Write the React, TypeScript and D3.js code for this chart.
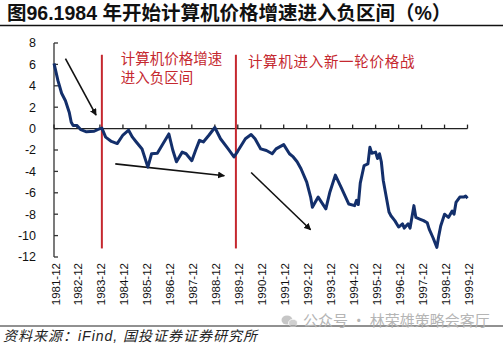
import React from "react";
import * as d3 from "d3";

// ---- data ----
const dates = [
  "1981-12","1982-02","1982-04","1982-06","1982-08","1982-09","1982-10","1982-12",
  "1983-02","1983-05","1983-09","1983-11","1984-01","1984-03","1984-06","1984-09",
  "1984-12","1985-03","1985-05","1985-07","1985-10","1986-01","1986-03","1986-06",
  "1986-09","1986-12","1987-02","1987-04","1987-07","1987-09","1987-12","1988-02",
  "1988-04","1988-06","1988-09","1988-12","1989-03","1989-07","1989-10","1989-12",
  "1990-04","1990-07","1990-09","1990-12","1991-03","1991-06","1991-08","1991-12",
  "1992-03","1992-05","1992-07","1992-09","1992-12","1993-02","1993-03","1993-06",
  "1993-10","1993-12","1994-03","1994-06","1994-10","1995-01","1995-02","1995-03",
  "1995-04","1995-06","1995-08","1995-09","1995-10","1995-12","1996-01","1996-02",
  "1996-03","1996-04","1996-07","1996-08","1996-10","1996-12","1997-02","1997-03",
  "1997-05","1997-06","1997-08","1997-09","1997-11","1998-01","1998-03","1998-04",
  "1998-06","1998-08","1998-09","1998-10","1998-12","1999-02","1999-04","1999-05",
  "1999-06","1999-08","1999-10","1999-11","1999-12",
];
const values = [
  6.1, 4.5, 3.3, 2.6, 1.5, 0.6, 0.3, 0.3,
  -0.1, -0.3, -0.25, -0.07, 0.05, -0.8, -1.2, -1.4,
  -0.6, -0.15, -0.8, -1.25, -1.9, -3.6, -2.35, -2.3,
  -1.4, -0.5, -2.0, -3.1, -2.2, -2.35, -3.0, -2.0,
  -1.1, -1.25, -0.6, 0.1, -0.95, -1.9, -2.65, -2.1,
  -0.95, -0.55, -0.95, -1.9, -2.05, -2.35, -1.9, -1.5,
  -2.35, -2.65, -3.1, -3.75, -5.0, -6.4, -7.35, -6.4,
  -7.5, -6.0, -4.35, -5.5, -7.05, -7.2, -6.7, -7.1,
  -5.1, -3.45, -3.3, -1.75, -2.3, -2.2, -2.8, -2.35,
  -3.1, -4.85, -7.8, -8.15, -8.6, -9.2, -8.9, -9.3,
  -8.9, -9.3, -7.2, -8.3, -8.45, -8.6, -8.8, -9.4,
  -10.2, -11.1, -10.0, -9.1, -8.0, -8.3, -7.7, -8.0,
  -6.9, -6.4, -6.4, -6.3, -6.5,
];
const yTicks = [8, 6, 4, 2, 0, -2, -4, -6, -8, -10, -12];
const xTickLabels = [
  "1981-12","1982-12","1983-12","1984-12","1985-12","1986-12","1987-12",
  "1988-12","1989-12","1990-12","1991-12","1992-12","1993-12","1994-12",
  "1995-12","1996-12","1997-12","1998-12","1999-12",
];
const markerDates = ["1984-01", "1989-11"];
const arrowFromDates = ["1982-06", "1984-08", "1990-07"];
const arrowFromValues = [6.55, -3.3, -4.1];
const arrowToDates = ["1983-10", "1989-05", "1993-02"];
const arrowToValues = [1.25, -4.4, -9.45];
const noteLines1 = ["计算机价格增速", "进入负区间"];
const noteLines2 = ["计算机进入新一轮价格战"];
const titleText = "图96.1984 年开始计算机价格增速进入负区间（%）";
const sourceText = "资料来源：iFind, 国投证券证券研究所";
const watermarkText = "公众号 · 林荣雄策略会客厅";

const parse = d3.timeParse("%Y-%m");

export default function App() {
  const W = 503, H = 347;
  const x = d3.scaleTime()
    .domain([parse("1981-12") as Date, parse("1999-12") as Date])
    .range([54, 467.5]);
  const y = d3.scaleLinear().domain([-12, 8]).range([257, 43]);
  const pts = dates.map((d, i) => [x(parse(d) as Date), y(values[i])] as [number, number]);
  const line = d3.line().curve(d3.curveLinear)(pts) || "";
  const y0 = y(0);
  const latin = "'Liberation Sans', Arial, sans-serif";
  const cjk = "'Liberation Sans', 'Noto Sans CJK SC', sans-serif";
  const red = "#c5282f";

  return (
    <svg width={W} height={H} viewBox={`0 0 ${W} ${H}`}
      style={{ position: "absolute", left: 0, top: 0, background: "#fff" }}>
      <defs>
        <marker id="ah" viewBox="0 0 10 10" refX="9" refY="5" markerWidth="7" markerHeight="7"
          orient="auto" markerUnits="userSpaceOnUse">
          <path d="M0,0 L10,5 L0,10 Z" fill="#111" />
        </marker>
      </defs>
      <rect x={0} y={0} width={W} height={H} fill="#fff" />
      {/* title */}
      <text x={7} y={19.5} fontFamily={cjk} fontWeight="bold" fontSize={19.5} fill="#111">{titleText}</text>
      <line x1={0} x2={W} y1={25.5} y2={25.5} stroke="#111" strokeWidth={1.5} />

      {/* y axis */}
      <line x1={54} x2={54} y1={y(8)} y2={y(-12)} stroke="#333" strokeWidth={1.3} />
      {yTicks.map((t) => (
        <g key={t}>
          <line x1={54} x2={58} y1={y(t)} y2={y(t)} stroke="#333" strokeWidth={1.3} />
          <text x={36} y={y(t)} dy="0.35em" textAnchor="end" fontFamily={latin} fontSize={12.5} fill="#111">{t}</text>
        </g>
      ))}

      {/* x axis at zero */}
      <line x1={54} x2={467.5} y1={y0} y2={y0} stroke="#222" strokeWidth={1.3} />
      {xTickLabels.map((l) => {
        const xx = x(parse(l) as Date);
        return (
          <g key={l}>
            <line x1={xx} x2={xx} y1={y0} y2={y0 - 4} stroke="#222" strokeWidth={1.3} />
            <text transform={`translate(${xx + 1.5},263) rotate(-90)`} textAnchor="end" dy="0.35em"
              fontFamily={latin} fontSize={11.5} fill="#111">{l}</text>
          </g>
        );
      })}

      {/* red markers */}
      {markerDates.map((d) => {
        const xx = x(parse(d) as Date);
        return <line key={d} x1={xx} x2={xx} y1={y(6.9)} y2={y(-11.2)} stroke={red} strokeWidth={2} />;
      })}
      {noteLines1.map((t, i) => (
        <text key={t} x={x(parse(markerDates[0]) as Date) + 19} y={64 + i * 19}
          fontFamily="'Noto Sans CJK SC', sans-serif" fontSize={14.5} fill={red}>{t}</text>
      ))}
      {noteLines2.map((t) => (
        <text key={t} x={x(parse(markerDates[1]) as Date) + 12} y={67}
          fontFamily="'Noto Sans CJK SC', sans-serif" fontSize={14.5} letterSpacing={0.7} fill={red}>{t}</text>
      ))}

      {/* arrows */}
      {arrowFromDates.map((d, i) => (
        <line key={d}
          x1={x(parse(d) as Date)} y1={y(arrowFromValues[i])}
          x2={x(parse(arrowToDates[i]) as Date)} y2={y(arrowToValues[i])}
          stroke="#111" strokeWidth={1.6} markerEnd="url(#ah)" />
      ))}

      {/* series */}
      <path d={line} fill="none" stroke="#132f6b" strokeWidth={3} strokeLinejoin="round" />

      {/* footer */}
      <line x1={0} x2={W} y1={326} y2={326} stroke="#222" strokeWidth={1} />
      <g opacity={0.55}>
        <ellipse cx={287} cy={320} rx={5.5} ry={4.5} fill="#999" />
        <ellipse cx={293} cy={323} rx={4.5} ry={3.8} fill="#aaa" stroke="#fff" strokeWidth={0.8} />
      </g>
      <text x={303} y={326} fontFamily="'Noto Sans CJK SC', sans-serif" fontSize={15} fill="#b5b5b5">{watermarkText}</text>
      <text x={3} y={341} fontFamily={cjk} fontStyle="italic" fontSize={14} letterSpacing={1} fill="#222">{sourceText}</text>
    </svg>
  );
}
